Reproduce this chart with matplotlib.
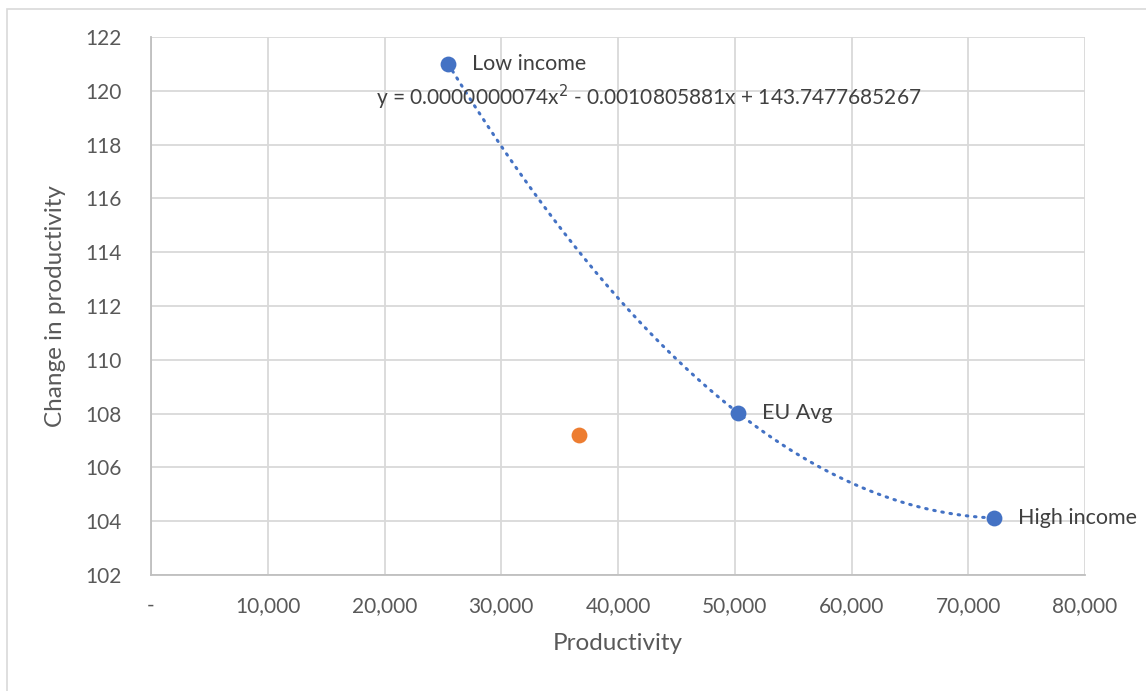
import numpy as np
import matplotlib
matplotlib.use("Agg")
import matplotlib.pyplot as plt
from matplotlib.ticker import FuncFormatter, MultipleLocator
from matplotlib.patches import Rectangle

plt.rcParams['font.family'] = ['Lato', 'DejaVu Sans']

# Data
labels = ["Low income", "EU Avg", "High income"]
prod_x = [25450, 50300, 72200]
change_y = [121.0, 108.02, 104.12]
other_x = [36700]
other_y = [107.2]
equation = "y = 0.0000000074x$^2$ - 0.0010805881x + 143.7477685267"

blue = "#4472C4"
orange = "#ED7D31"
txt = "#595959"
grid = "#D9D9D9"

fig = plt.figure(figsize=(11.46, 6.91), dpi=100)
W, H = 1146, 691
ax = fig.add_axes([151 / W, (691 - 575) / H, 934 / W, 538 / H])

# chart border
fig.patches.append(Rectangle((7 / W, -0.1), 1.2, (691 - 9) / H + 0.1,
                             transform=fig.transFigure, fill=False,
                             edgecolor="#D9D9D9", linewidth=1.2))

# trendline (2nd order polynomial fit)
coef = np.polyfit(prod_x, change_y, 2)
xs = np.linspace(min(prod_x), max(prod_x), 300)
ax.plot(xs, np.polyval(coef, xs), color=blue, linewidth=2.2,
        linestyle=(0, (0.5, 2.2)), dash_capstyle='round', zorder=3)

ax.scatter(prod_x, change_y, s=130, color=blue, zorder=4, linewidths=0)
ax.scatter(other_x, other_y, s=130, color=orange, zorder=4, linewidths=0)

for lx, ly, lab in zip(prod_x, change_y, labels):
    ax.annotate(lab, (lx, ly), xytext=(17, 0), textcoords="offset points",
                ha="left", va="center", fontsize=15.5, color="#404040")

ax.text(42650, 119.77, equation, ha="center", va="center", fontsize=15,
        color="#404040")

ax.set_xlim(0, 80000)
ax.set_ylim(102, 122)
ax.xaxis.set_major_locator(MultipleLocator(10000))
ax.yaxis.set_major_locator(MultipleLocator(2))
ax.xaxis.set_major_formatter(FuncFormatter(lambda v, p: "-" if v == 0 else f"{v:,.0f}"))
ax.yaxis.set_major_formatter(FuncFormatter(lambda v, p: f"{v:.0f}"))

ax.grid(True, color=grid, linewidth=1.3, zorder=0)
ax.set_axisbelow(True)
for s in ["top", "right"]:
    ax.spines[s].set_visible(False)
for s in ["left", "bottom"]:
    ax.spines[s].set_color("#BFBFBF")
    ax.spines[s].set_linewidth(1.3)
ax.tick_params(length=0, labelsize=15, labelcolor=txt)
ax.tick_params(axis="x", pad=15)
ax.tick_params(axis="y", pad=21)

ax.set_xlabel("Productivity", fontsize=17.5, color=txt, labelpad=12)
ax.set_ylabel("Change in productivity", fontsize=17.5, color=txt, labelpad=14)

fig.savefig("out.png", dpi=100)
